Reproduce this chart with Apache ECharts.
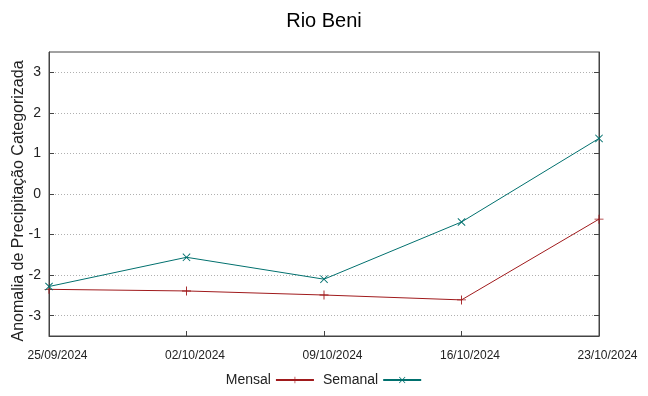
<!DOCTYPE html>
<html><head><meta charset="utf-8">
<script src="https://cdn.jsdelivr.net/npm/echarts@6/dist/echarts.min.js"></script>
<style>html,body{margin:0;padding:0;background:#fff}#c{width:648px;height:396px}</style>
</head><body><div id="c"></div>
<script>
const categories = ['25/09/2024','02/10/2024','09/10/2024','16/10/2024','23/10/2024'];
const mensal = [-2.35, -2.39, -2.49, -2.61, -0.62];
const semanal = [-2.28, -1.56, -2.10, -0.69, 1.37];
const yTicks = [-3, -2, -1, 0, 1, 2, 3];
const title = 'Rio Beni';
const yName = 'Anomalia de Precipitação Categorizada';

const plusPath = 'path://M4.5,0h1v10h-1zM0,4.5h10v1h-10z';
const crossPath = 'path://M0,0.8L0.8,0L5,4.2L9.2,0L10,0.8L5.8,5L10,9.2L9.2,10L5,5.8L0.8,10L0,9.2L4.2,5Z';
const F = 'Liberation Sans, Arial, sans-serif';
const chart = echarts.init(document.getElementById('c'));
chart.setOption({
  animation: false,
  title: {text: title, left: 'center', top: 6, textStyle: {fontFamily: F, fontSize: 20, fontWeight: 'normal', color: '#000'}},
  grid: {left: 49, right: 49, top: 52, bottom: 60, show: true, borderColor: '#444', borderWidth: 1,
         backgroundColor: 'transparent', outerBoundsMode: 'none', containLabel: false},
  legend: {
    bottom: 4, left: 'center', align: 'right', itemWidth: 38, itemHeight: 8, itemGap: 8,
    textStyle: {fontFamily: F, fontSize: 14, color: '#222'},
    data: ['Mensal', 'Semanal']
  },
  xAxis: {
    type: 'category', data: categories, boundaryGap: false,
    axisLine: {onZero: false, lineStyle: {color: '#444'}},
    axisTick: {inside: true, alignWithLabel: true, length: 5, lineStyle: {color: '#444'}},
    axisLabel: {fontFamily: F, fontSize: 12, color: '#222', margin: 14, padding: [0, 0, 0, 17],
      showMinLabel: true, showMaxLabel: true},
    splitLine: {show: false}
  },
  yAxis: [{
    type: 'value', min: -3.5, max: 3.5,
    name: yName, nameLocation: 'middle', nameGap: 22, nameRotate: 90, nameMoveOverlap: false,
    nameTextStyle: {fontFamily: F, fontSize: 16, color: '#222', padding: [0, 14, 0, 0]},
    axisLine: {show: true, onZero: false, lineStyle: {color: '#444'}},
    axisTick: {show: true, inside: true, length: 5, lineStyle: {color: '#444'}, customValues: yTicks},
    axisLabel: {fontFamily: F, fontSize: 14, color: '#222', margin: 8, customValues: yTicks},
    splitLine: {show: true, lineStyle: {color: '#b0b0b0', type: [1, 2], width: 1}}
  }, {
    type: 'value', min: -3.5, max: 3.5, position: 'right',
    axisLine: {show: true, onZero: false, lineStyle: {color: '#444'}},
    axisTick: {show: true, inside: true, length: 5, lineStyle: {color: '#444'}, customValues: yTicks},
    axisLabel: {show: false, customValues: yTicks}, splitLine: {show: false}
  }],
  series: [{
    name: 'Mensal', type: 'line', data: mensal,
    symbol: plusPath, symbolSize: 9,
    lineStyle: {color: '#a01a1c', width: 1}, itemStyle: {color: '#a01a1c'}
  }, {
    name: 'Semanal', type: 'line', data: semanal,
    symbol: crossPath, symbolSize: 8,
    lineStyle: {color: '#00706e', width: 1}, itemStyle: {color: '#00706e'}
  }]
});
</script></body></html>
